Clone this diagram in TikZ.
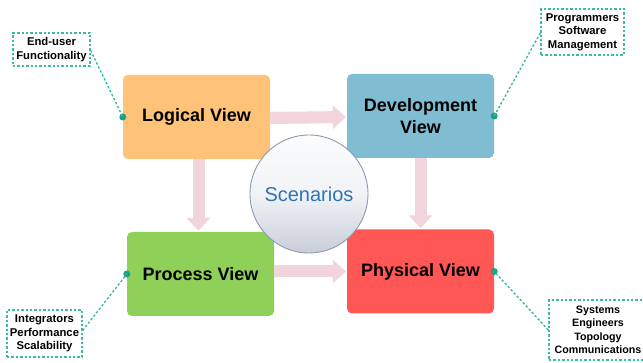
\documentclass[tikz,border=0pt]{standalone}
\usepackage{fontspec}
\setmainfont{Liberation Sans}
\usetikzlibrary{arrows.meta,calc}
\definecolor{lvcol}{HTML}{FFC279}
\definecolor{dvcol}{HTML}{80BCD2}
\definecolor{pvcol}{HTML}{8FD058}
\definecolor{phcol}{HTML}{FF5656}
\definecolor{arrcol}{HTML}{F2D4DC}
\definecolor{teal}{HTML}{3DBBA2}
\definecolor{dotcol}{HTML}{17A287}
\definecolor{scen}{HTML}{2E74B5}
\definecolor{ringcol}{HTML}{8C9AB3}
\definecolor{ballbot}{HTML}{C8CEDA}
\begin{document}
\begin{tikzpicture}[x=1pt,y=-1pt,
  viewbox/.style={rounded corners=5pt, inner sep=0pt, minimum width=147pt, minimum height=84pt, align=center, font=\fontsize{18}{22}\selectfont\bfseries},
  bigarrow/.style={draw=arrcol, line width=12pt, -{Triangle[length=13pt,width=23pt]}},
  callout/.style={draw=teal, line width=1.4pt, dash pattern=on 2.4pt off 2pt, inner sep=0pt, align=center, font=\fontsize{11.3}{13.5}\selectfont\bfseries},
  leader/.style={draw=teal, line width=1.4pt, dash pattern=on 2.4pt off 2pt},
  dotc/.style={circle, fill=dotcol, inner sep=0pt, minimum size=7pt}]
\useasboundingbox[fill=white] (0,0) rectangle (643,363);
% boxes
\node[viewbox, fill=lvcol] (lv) at (196.5,117) {Logical View};
\node[viewbox, fill=dvcol] (dv) at (420.5,116) {Development\\View};
\node[viewbox, fill=pvcol] (pv) at (200.5,274) {Process View};
\node[viewbox, fill=phcol] (ph) at (420.5,271.5) {Physical View};
% arrows
\draw[bigarrow] ($(lv.east)+(0,1)$) -- ($(dv.west)+(-1,1)$);
\draw[bigarrow] ($(lv.south)+(2,0)$) -- ($(lv.south |- pv.north)+(2,-1)$);
\draw[bigarrow] (dv.south) -- ($(ph.north)+(0,-1)$);
\draw[bigarrow] (ph.west -| pv.east) -- ($(ph.west)+(-1,0)$);
% scenarios circle
\node[circle, minimum size=118pt, inner sep=0pt, draw=ringcol, line width=0.9pt,
  top color=white!94!ballbot, bottom color=ballbot, middle color=white!75!ballbot,
  font=\fontsize{20}{24}\selectfont, text=scen] (sc) at (309,194) {Scenarios};
% callouts
\node[callout, minimum width=77pt, minimum height=33pt] (c1) at (51.5,49.5) {End-user\\Functionality};
\node[callout, minimum width=83pt, minimum height=46pt] (c2) at (582.5,32) {Programmers\\Software\\Management};
\node[callout, minimum width=75pt, minimum height=47pt] (c3) at (44.5,333.5) {Integrators\\Performance\\Scalability};
\node[callout, minimum width=98pt, minimum height=60pt, font=\fontsize{10.7}{13.5}\selectfont\bfseries] (c4) at (598,330) {Systems\\Engineers\\Topology\\Communications};
% dots
\node[dotc] (d1) at (lv.west) {};
\node[dotc] (d2) at (dv.east) {};
\node[dotc] (d3) at (pv.west) {};
\node[dotc] (d4) at (ph.east) {};
% leaders
\draw[leader] ($(c1.east)+(0,1)$) -- (d1.center);
\draw[leader] ($(c2.west)+(0,1)$) -- (d2.center);
\draw[leader] ($(c3.east)+(0,-3)$) -- (d3.center);
\draw[leader] (c4.west) -- (d4.center);
\end{tikzpicture}
\end{document}
